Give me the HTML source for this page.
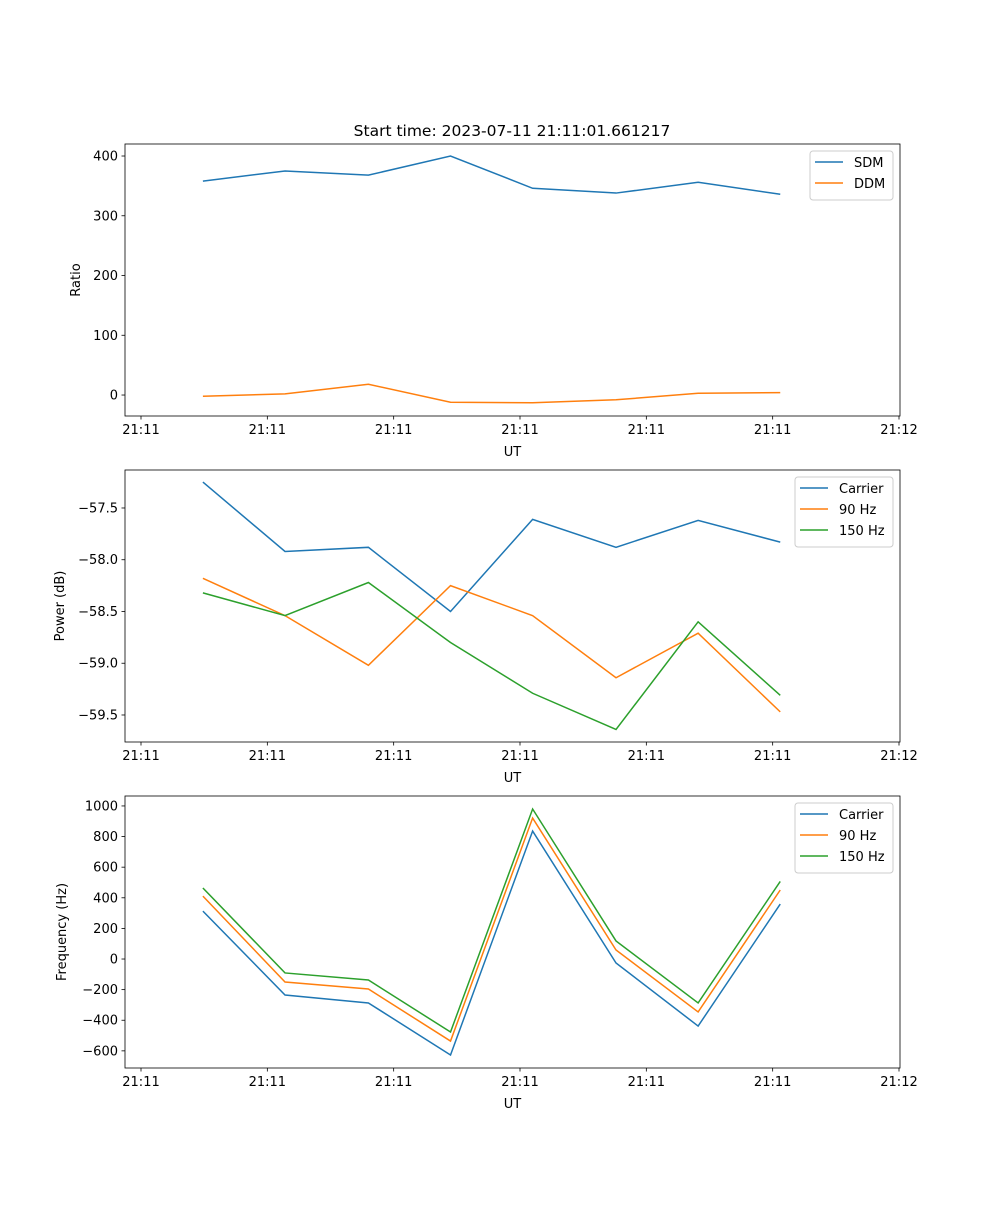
<!DOCTYPE html>
<html><head><meta charset="utf-8"><style>
body{margin:0;background:#fff;font-family:"Liberation Sans","DejaVu Sans",sans-serif;}
svg text{font-family:"DejaVu Sans","Liberation Sans",sans-serif;font-size:13px;fill:#000;}
</style></head><body>
<svg id="chart" width="1000" height="1200" xmlns="http://www.w3.org/2000/svg"></svg>
<script>
const times = [4.9, 11.4, 18.0, 24.5, 31.0, 37.6, 44.1, 50.6];
const xTickVals = [0, 10, 20, 30, 40, 50, 60];
const xTickLabels = ["21:11","21:11","21:11","21:11","21:11","21:11","21:12"];
const sdm = [358, 375, 368, 400, 346, 338, 356, 336];
const ddm = [-2, 2, 18, -12, -13, -8, 3, 4];
const powCarrier = [-57.25, -57.92, -57.88, -58.50, -57.61, -57.88, -57.62, -57.83];
const pow90 = [-58.18, -58.54, -59.02, -58.25, -58.54, -59.14, -58.71, -59.47];
const pow150 = [-58.32, -58.54, -58.22, -58.80, -59.29, -59.64, -58.60, -59.31];
const freqCarrier = [313, -235, -287, -627, 836, -26, -438, 359];
const freq90 = [411, -150, -196, -536, 921, 59, -346, 451];
const freq150 = [464, -91, -137, -477, 980, 118, -287, 507];
const ratioTicks = [0, 100, 200, 300, 400];
const powTicks = [-57.5, -58.0, -58.5, -59.0, -59.5];
const freqTicks = [1000, 800, 600, 400, 200, 0, -200, -400, -600, -800];

const NS = "http://www.w3.org/2000/svg";
const svg = document.getElementById("chart");
function el(tag, attrs, parent){const e=document.createElementNS(NS,tag);for(const k in attrs)e.setAttribute(k,attrs[k]);(parent||svg).appendChild(e);return e;}
const C = ["#1f77b4","#ff7f0e","#2ca02c"];
const L = 125, R = 900;
const xs = t => 141 + (t - 0) * (899 - 141) / 60;

function fmt(v, dec){ const s = v.toFixed(dec); return s.replace("-", "\u2212"); }

function panel(name, top, bottom, ymin, ymax, yticks, dec, ylabel, series, names, legend, legendX){
  const g = el("g", {});  
  const ys = v => bottom - (v - ymin) * (bottom - top) / (ymax - ymin);
  series.forEach((s, i) => {
    const p = el("polyline", {points: s.map((v, j) => xs(times[j]) + "," + ys(v)).join(" "), fill:"none", stroke:C[i], "stroke-width":1.5}, g);
    
    
  });
  el("rect", {x:L, y:top, width:R-L, height:bottom-top, fill:"none", stroke:"#000", "stroke-width":0.8}, g);
  xTickVals.forEach((t, i) => {
    const x = xs(t);
    el("line", {x1:x, x2:x, y1:bottom, y2:bottom+3.5, stroke:"#000", "stroke-width":0.8}, g);
    const tx = el("text", {x:x, y:bottom+18, "text-anchor":"middle"}, g); tx.textContent = xTickLabels[i];
     
  });
  const xl = el("text", {x:(L+R)/2, y:bottom+40, "text-anchor":"middle"}, g); xl.textContent = "UT";
   
  yticks.forEach(v => {
    const y = ys(v); if (y < top - 1 || y > bottom + 1) return;
    el("line", {x1:L-3.5, x2:L, y1:y, y2:y, stroke:"#000", "stroke-width":0.8}, g);
    const tx = el("text", {x:L-7, y:y+4.5, "text-anchor":"end"}, g); tx.textContent = fmt(v, dec);
     
  });
  const yl = el("text", {x:0, y:0, "text-anchor":"middle", transform:"translate(" + legend.ylx + "," + (top+bottom)/2 + ") rotate(-90)"}, g);
  yl.textContent = ylabel;  
  const lg = el("g", {}, g);  
  const lh = 7 + names.length * 21;
  el("rect", {x:legendX, y:top+7, width:R-7-legendX, height:lh, rx:3, fill:"#fff", "fill-opacity":0.8, stroke:"#ccc"}, lg);
  names.forEach((n, i) => {
    const y = top + 18 + i * 21;
    el("line", {x1:legendX+5, x2:legendX+33, y1:y, y2:y, stroke:C[i], "stroke-width":1.5}, lg);
    const t = el("text", {x:legendX+44, y:y+5}, lg); t.textContent = n;
     
  });
}

const title = el("text", {x:512, y:136, "text-anchor":"middle", style:"font-size:15.5px"});
title.textContent = "Start time: 2023-07-11 21:11:01.661217";
 

panel("ratio-panel", 144, 416, -35.1, 420.1, ratioTicks, 0, "Ratio", [sdm, ddm], ["SDM","DDM"], {ylx:80}, 810);
panel("power-panel", 470, 742, -59.761, -57.133, powTicks, 1, "Power (dB)", [powCarrier, pow90, pow150], ["Carrier","90 Hz","150 Hz"], {ylx:64}, 795);
panel("frequency-panel", 796, 1068, -712, 1065, freqTicks, 0, "Frequency (Hz)", [freqCarrier, freq90, freq150], ["Carrier","90 Hz","150 Hz"], {ylx:66}, 795);
</script>
</body></html>
